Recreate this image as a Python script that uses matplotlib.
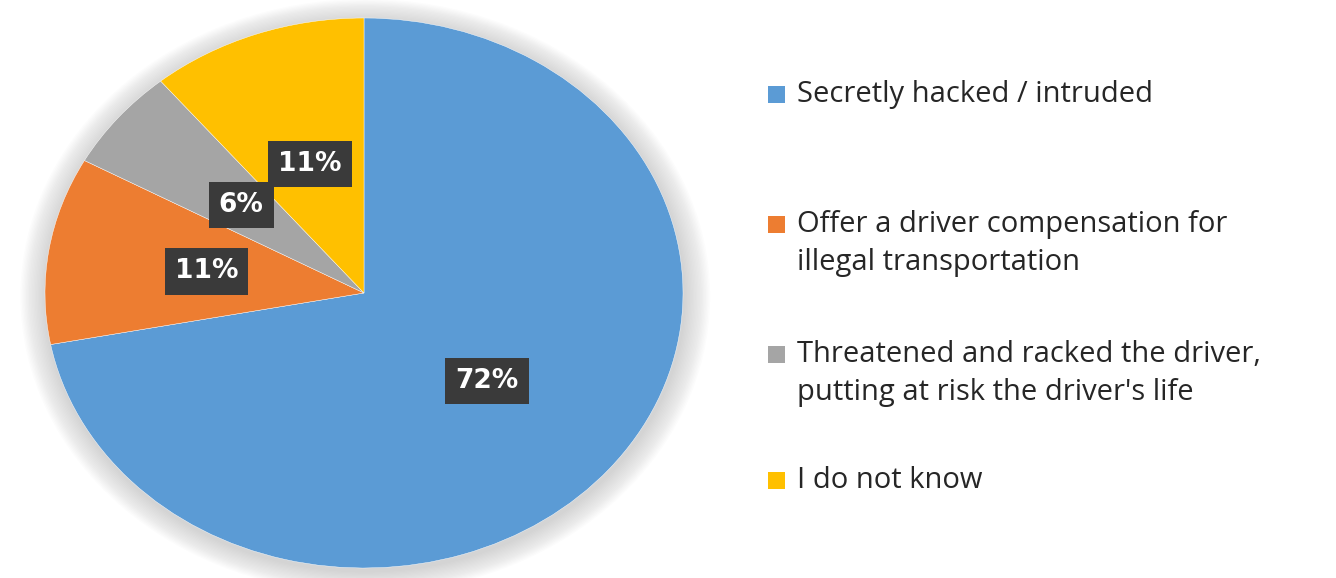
import matplotlib
matplotlib.use("Agg")
import matplotlib.pyplot as plt
from matplotlib.patches import Ellipse, Rectangle

# données du graphique
labels = ["Secretly hacked / intruded",
          "Offer a driver compensation for\nillegal transportation",
          "Threatened and racked the driver,\nputting at risk the driver's life",
          "I do not know"]
shares = [72, 11, 6, 11]
colors = ["#5B9BD5", "#ED7D31", "#A5A5A5", "#FFC000"]

W, H = 1336, 578
fig = plt.figure(figsize=(W / 100, H / 100), dpi=100)
fig.patch.set_facecolor("white")

# axe du camembert (ellipse étirée comme dans l'original)
ax = fig.add_axes([45 / W, 10 / H, 638 / W, 550 / H])

# ombre douce autour du camembert
for k in range(18):
    s = 1.0 + 0.0045 * (k + 1)
    ax.add_patch(Ellipse((0.004, -0.012), 2 * s, 2 * s, color="#b4b4b4",
                         alpha=0.035, lw=0, zorder=0, clip_on=False))

wedges, texts, autotexts = ax.pie(
    shares, colors=colors, startangle=90, counterclock=False,
    autopct="%d%%", pctdistance=0.5,
    wedgeprops=dict(linewidth=0.3, edgecolor="white"),
    textprops=dict(color="white", fontsize=19, fontweight="bold",
                   family="DejaVu Sans"))
for w in wedges:
    w.set_clip_on(False)
for t in autotexts:
    t.set_bbox(dict(boxstyle="square,pad=0.38", facecolor="#3a3a3a",
                    edgecolor="none"))
ax.set_aspect("auto")
ax.set_xlim(-1, 1)
ax.set_ylim(-1, 1)
ax.axis("off")

# légende à droite, dessinée à la main (ligne par ligne)
baselines = [102, 232, 362, 488]
line_gap = 38
for lab, col, y in zip(labels, colors, baselines):
    fig.patches.append(Rectangle((768 / W, 1 - (y + 1) / H), 17 / W, 17 / H,
                                 transform=fig.transFigure, facecolor=col,
                                 edgecolor="none"))
    for i, line in enumerate(lab.split("\n")):
        fig.text(797 / W, 1 - (y + i * line_gap) / H, line, fontsize=21,
                 family="Open Sans", color="#262626", va="baseline",
                 ha="left")

fig.savefig("out.png", dpi=100)
